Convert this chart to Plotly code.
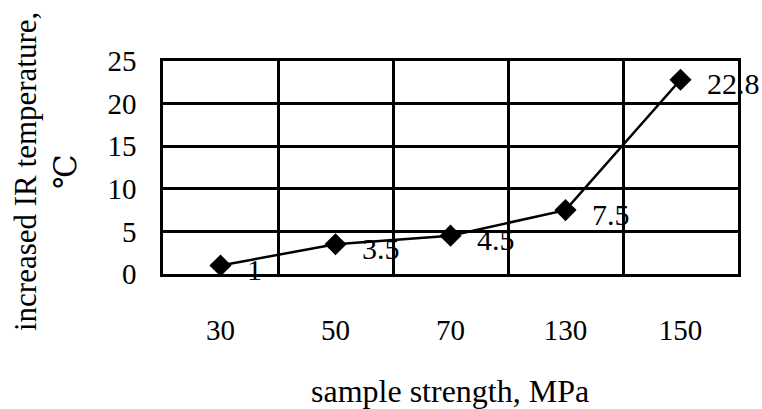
import plotly.graph_objects as go

strength = ["30", "50", "70", "130", "150"]
temp_rise = [1, 3.5, 4.5, 7.5, 22.8]
point_labels = ["1", "3.5", "4.5", "7.5", "22.8"]
y_ticks = [0, 5, 10, 15, 20, 25]

FONT = "Liberation Serif, DejaVu Serif, Times New Roman, serif"
L, R, T, B = 163, 24, 61, 135
W, H = 762, 409

fig = go.Figure()
fig.add_trace(go.Scatter(
    x=strength, y=temp_rise, mode="lines+markers",
    line=dict(color="black", width=2.5),
    marker=dict(symbol="diamond", size=17, color="black"),
    showlegend=False, cliponaxis=False,
))

for i, (yv, lab) in enumerate(zip(temp_rise, point_labels)):
    fig.add_annotation(x=i, y=yv, text=lab, showarrow=False,
                       xanchor="left", yanchor="middle", xshift=24, yshift=-4,
                       font=dict(family=FONT, size=30, color="black"))

fig.add_annotation(xref="paper", yref="paper",
                   x=(45 - L) / (W - L - R), y=(H - B - 172) / (H - T - B),
                   text="increased IR temperature,<br>℃", textangle=-90,
                   showarrow=False, xanchor="center", yanchor="middle",
                   font=dict(family=FONT, size=31, color="black"))

fig.add_annotation(xref="paper", yref="paper",
                   x=(450 - L) / (W - L - R), y=-(391 - (H - B)) / (H - T - B),
                   text="sample strength, MPa", showarrow=False,
                   xanchor="center", yanchor="middle",
                   font=dict(family=FONT, size=32, color="black"))

fig.update_layout(
    width=W, height=H,
    margin=dict(l=L, r=R, t=T, b=B),
    paper_bgcolor="white", plot_bgcolor="white",
    font=dict(family=FONT, size=30, color="black"),
    xaxis=dict(type="category", categoryorder="array", categoryarray=strength,
               range=[-0.5, len(strength) - 0.5], tickangle=0,
               tickson="boundaries", showgrid=True, gridcolor="black", gridwidth=2.5,
               showline=True, linecolor="black", linewidth=2.5, mirror=True,
               ticks="outside", ticklen=0, ticklabelstandoff=28,
               tickfont=dict(family=FONT, size=29, color="black")),
    yaxis=dict(range=[0, 25], tickvals=y_ticks, showgrid=True, gridcolor="black",
               gridwidth=2.5, showline=True, linecolor="black", linewidth=2.5, mirror=True,
               zeroline=False, ticks="outside", ticklen=0, ticklabelstandoff=18,
               tickfont=dict(family=FONT, size=29, color="black")),
)

fig.write_html("out.html")
